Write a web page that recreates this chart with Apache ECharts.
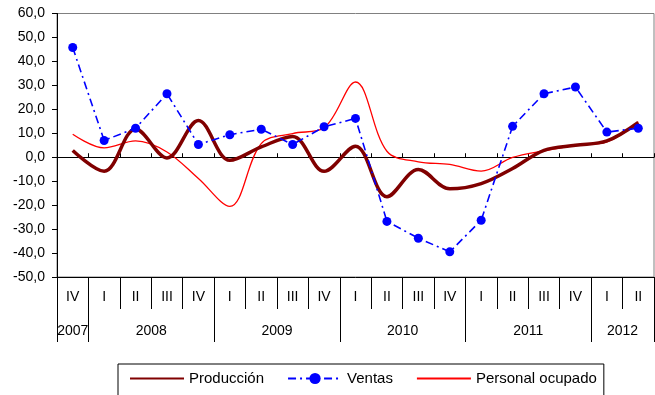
<!DOCTYPE html>
<html><head><meta charset="utf-8">
<script src="https://cdn.jsdelivr.net/npm/echarts@6/dist/echarts.min.js"></script>
<style>html,body{margin:0;padding:0;background:#fff}#c{width:655px;height:395px}</style>
</head><body><div id="c"></div>
<script>
const quarters = ['IV','I','II','III','IV','I','II','III','IV','I','II','III','IV','I','II','III','IV','I','II'];
const years = ['2007','2008','2009','2010','2011','2012'];
const quartersPerYear = [1,4,4,4,4,2];
const produccion = [2.8,-5.9,11.8,-0.3,15.3,-1.3,4.3,8.7,-5.9,4.6,-16.5,-5.1,-13.2,-11.0,-4.7,2.9,5.0,6.8,14.5];
const ventas = [45.8,7.0,12.1,26.5,5.3,9.4,11.7,5.3,12.7,16.2,-26.8,-33.8,-39.5,-26.3,12.9,26.5,29.3,10.5,12.1];
const personal = [9.6,3.9,6.8,2.2,-8.9,-20.5,5.7,9.9,12.3,31.4,2.5,-1.9,-3.0,-5.8,-0.1,2.7,5.0,6.4,14.8];

const bounds = [0];
quartersPerYear.forEach(n => bounds.push(bounds[bounds.length-1] + n));
const centers = quartersPerYear.map((n,i) => bounds[i] + n/2);
const nQ = quarters.length;
const font = 'Liberation Sans, Arial, sans-serif';

const chart = echarts.init(document.getElementById('c'), null, {renderer:'canvas'});
chart.setOption({
  animation: false,
  backgroundColor: '#fff',
  grid: {left:57, right:1, top:13.5, bottom:118, show:true, borderColor:'#808080', borderWidth:1, backgroundColor:'#fff'},
  legend: {
    left: 118, top: 364, orient: 'horizontal',
    itemWidth: 54, itemHeight: 14, itemGap: 23,
    borderColor: '#000', borderWidth: 1, padding: [7, 7, 40, 11],
    textStyle: {fontSize: 15, color: '#000', fontFamily: font},
    data: [
      {name:'Producción', itemStyle:{opacity:0}},
      {name:'Ventas'},
      {name:'Personal ocupado', itemStyle:{opacity:0}}
    ]
  },
  xAxis: [
    {type:'category', data: quarters, boundaryGap:true, position:'bottom',
     axisLine:{onZero:true, lineStyle:{color:'#000', width:1}},
     axisTick:{show:true, inside:true, length:4, lineStyle:{color:'#000'}},
     axisLabel:{show:false}, splitLine:{show:false}},
    {type:'category', data: quarters, boundaryGap:true, position:'bottom',
     axisLine:{onZero:false, lineStyle:{color:'#000', width:1}},
     axisTick:{show:true, length:32, lineStyle:{color:'#000'}},
     axisLabel:{show:true, interval:0, margin:13, fontSize:14, color:'#000', fontFamily:font},
     splitLine:{show:false}},
    {type:'value', min:0, max:nQ, position:'bottom',
     axisLine:{show:false, onZero:false},
     axisTick:{show:true, length:65, customValues: bounds, lineStyle:{color:'#000'}},
     axisLabel:{show:true, margin:47, fontSize:14, color:'#000', fontFamily:font,
       customValues: centers,
       formatter: v => { const i = centers.findIndex(c => Math.abs(c - v) < 1e-6); return i >= 0 ? years[i] : ''; }},
     splitLine:{show:false}}
  ],
  yAxis: {
    type:'value', min:-50, max:60, interval:10,
    axisLine:{show:true, lineStyle:{color:'#000'}},
    axisTick:{show:true, length:5, lineStyle:{color:'#000'}},
    axisLabel:{margin:12, fontSize:14, color:'#000', fontFamily:font,
      formatter: v => v.toFixed(1).replace('.', ',')},
    splitLine:{show:false}
  },
  series: [
    {name:'Producción', type:'line', xAxisIndex:0, data: produccion, smooth:0.35,
     showSymbol:false, symbol:'none', lineStyle:{color:'#800000', width:3.5}, itemStyle:{color:'#800000'}, z:3},
    {name:'Ventas', type:'line', xAxisIndex:0, data: ventas, smooth:false,
     symbol:'circle', symbolSize:9, showSymbol:true,
     lineStyle:{color:'#0000ff', width:1.6, type:[8,4,2,4]}, itemStyle:{color:'#0000ff'}, z:4},
    {name:'Personal ocupado', type:'line', xAxisIndex:0, data: personal, smooth:0.35,
     showSymbol:false, symbol:'none', lineStyle:{color:'#ff0000', width:1.3}, itemStyle:{color:'#ff0000'}, z:2}
  ]
});
</script></body></html>
